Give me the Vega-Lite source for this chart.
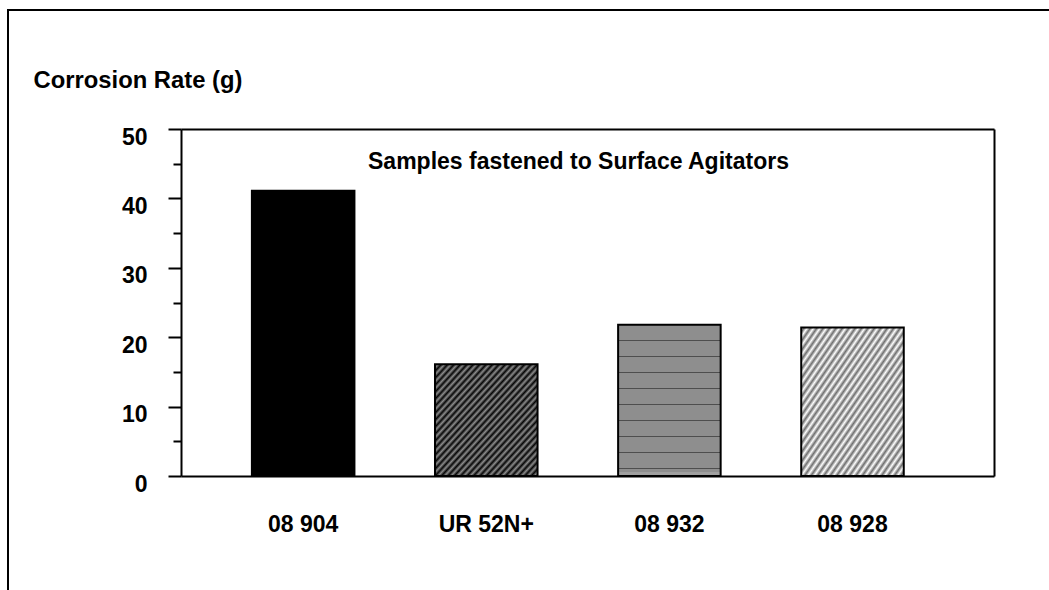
{
  "$schema": "https://vega.github.io/schema/vega-lite/v6.json",
  "autosize": {"type": "none"},
  "width": 1043,
  "height": 582,
  "padding": {"left": 8, "top": 10, "right": -2, "bottom": -2},
  "background": "white",
  "config": {
    "view": {"stroke": "black", "strokeWidth": 2},
    "font": "Liberation Sans",
    "axis": {"domainColor": "black", "domainWidth": 2, "tickColor": "black", "tickWidth": 2, "labelFont": "Liberation Sans", "labelFontWeight": "bold", "labelFontSize": 23, "labelColor": "black", "titleFont": "Liberation Sans", "titleFontWeight": "bold", "titleFontSize": 23, "titleColor": "black", "grid": false}
  },
  "data": {"values": [
    {"sample": "08 904", "rate": 41.1},
    {"sample": "UR 52N+", "rate": 16.1},
    {"sample": "08 932", "rate": 21.8},
    {"sample": "08 928", "rate": 21.4}
  ]},
  "layer": [
    {
      "mark": {"type": "bar", "stroke": "black", "strokeWidth": 2},
      "encoding": {
        "x": {"field": "sample", "type": "nominal", "sort": null,
          "scale": {"range": [173, 986], "paddingInner": 0.44, "paddingOuter": 0.44, "align": 0.44},
          "axis": {"orient": "bottom", "offset": -116, "title": null, "ticks": false, "labelAngle": 0, "labelPadding": 37, "labelBaseline": "top"}},
        "y": {"field": "rate", "type": "quantitative",
          "scale": {"domain": [0, 50], "range": [466, 119], "nice": false, "zero": true},
          "axis": {"orient": "left", "offset": -173, "values": [0,5,10,15,20,25,30,35,40,45,50],
            "tickSize": {"condition": {"test": "datum.value % 10 === 0", "value": 13}, "value": 8},
            "labelExpr": "datum.value % 10 === 0 ? datum.label : ''",
            "labelPadding": 21, "labelOffset": 8, "labelBaseline": "middle",
            "title": "Corrosion Rate (g)", "titleFontSize": 23.8, "titleAngle": 0, "titleAlign": "left", "titleBaseline": "alphabetic", "titleX": -148, "titleY": 77}},
        "fill": {
          "condition": [
            {"test": "datum.sample === 'UR 52N+'", "value": {"gradient": "linear", "x1": 0, "y1": 0, "x2": 1, "y2": 1, "stops": [
              {"offset": 0, "color": "#050505"}, {"offset": 0.015625, "color": "#8c8c8c"}, {"offset": 0.03125, "color": "#050505"}, {"offset": 0.046875, "color": "#8c8c8c"},
              {"offset": 0.0625, "color": "#050505"}, {"offset": 0.078125, "color": "#8c8c8c"}, {"offset": 0.09375, "color": "#050505"}, {"offset": 0.109375, "color": "#8c8c8c"},
              {"offset": 0.125, "color": "#050505"}, {"offset": 0.140625, "color": "#8c8c8c"}, {"offset": 0.15625, "color": "#050505"}, {"offset": 0.171875, "color": "#8c8c8c"},
              {"offset": 0.1875, "color": "#050505"}, {"offset": 0.203125, "color": "#8c8c8c"}, {"offset": 0.21875, "color": "#050505"}, {"offset": 0.234375, "color": "#8c8c8c"},
              {"offset": 0.25, "color": "#050505"}, {"offset": 0.265625, "color": "#8c8c8c"}, {"offset": 0.28125, "color": "#050505"}, {"offset": 0.296875, "color": "#8c8c8c"},
              {"offset": 0.3125, "color": "#050505"}, {"offset": 0.328125, "color": "#8c8c8c"}, {"offset": 0.34375, "color": "#050505"}, {"offset": 0.359375, "color": "#8c8c8c"},
              {"offset": 0.375, "color": "#050505"}, {"offset": 0.390625, "color": "#8c8c8c"}, {"offset": 0.40625, "color": "#050505"}, {"offset": 0.421875, "color": "#8c8c8c"},
              {"offset": 0.4375, "color": "#050505"}, {"offset": 0.453125, "color": "#8c8c8c"}, {"offset": 0.46875, "color": "#050505"}, {"offset": 0.484375, "color": "#8c8c8c"},
              {"offset": 0.5, "color": "#050505"}, {"offset": 0.515625, "color": "#8c8c8c"}, {"offset": 0.53125, "color": "#050505"}, {"offset": 0.546875, "color": "#8c8c8c"},
              {"offset": 0.5625, "color": "#050505"}, {"offset": 0.578125, "color": "#8c8c8c"}, {"offset": 0.59375, "color": "#050505"}, {"offset": 0.609375, "color": "#8c8c8c"},
              {"offset": 0.625, "color": "#050505"}, {"offset": 0.640625, "color": "#8c8c8c"}, {"offset": 0.65625, "color": "#050505"}, {"offset": 0.671875, "color": "#8c8c8c"},
              {"offset": 0.6875, "color": "#050505"}, {"offset": 0.703125, "color": "#8c8c8c"}, {"offset": 0.71875, "color": "#050505"}, {"offset": 0.734375, "color": "#8c8c8c"},
              {"offset": 0.75, "color": "#050505"}, {"offset": 0.765625, "color": "#8c8c8c"}, {"offset": 0.78125, "color": "#050505"}, {"offset": 0.796875, "color": "#8c8c8c"},
              {"offset": 0.8125, "color": "#050505"}, {"offset": 0.828125, "color": "#8c8c8c"}, {"offset": 0.84375, "color": "#050505"}, {"offset": 0.859375, "color": "#8c8c8c"},
              {"offset": 0.875, "color": "#050505"}, {"offset": 0.890625, "color": "#8c8c8c"}, {"offset": 0.90625, "color": "#050505"}, {"offset": 0.921875, "color": "#8c8c8c"},
              {"offset": 0.9375, "color": "#050505"}, {"offset": 0.953125, "color": "#8c8c8c"}, {"offset": 0.96875, "color": "#050505"}, {"offset": 0.984375, "color": "#8c8c8c"},
              {"offset": 1, "color": "#050505"}
            ]}},
            {"test": "datum.sample === '08 932'", "value": {"gradient": "linear", "x1": 0, "y1": 0, "x2": 0, "y2": 1, "stops": [
              {"offset": 0, "color": "#8e8e8e"},
              {"offset": 0.102, "color": "#8e8e8e"}, {"offset": 0.102, "color": "#4e4e4e"}, {"offset": 0.109, "color": "#4e4e4e"}, {"offset": 0.109, "color": "#8e8e8e"},
              {"offset": 0.208, "color": "#8e8e8e"}, {"offset": 0.208, "color": "#4e4e4e"}, {"offset": 0.215, "color": "#4e4e4e"}, {"offset": 0.215, "color": "#8e8e8e"},
              {"offset": 0.314, "color": "#8e8e8e"}, {"offset": 0.314, "color": "#4e4e4e"}, {"offset": 0.321, "color": "#4e4e4e"}, {"offset": 0.321, "color": "#8e8e8e"},
              {"offset": 0.42, "color": "#8e8e8e"}, {"offset": 0.42, "color": "#4e4e4e"}, {"offset": 0.427, "color": "#4e4e4e"}, {"offset": 0.427, "color": "#8e8e8e"},
              {"offset": 0.526, "color": "#8e8e8e"}, {"offset": 0.526, "color": "#4e4e4e"}, {"offset": 0.533, "color": "#4e4e4e"}, {"offset": 0.533, "color": "#8e8e8e"},
              {"offset": 0.632, "color": "#8e8e8e"}, {"offset": 0.632, "color": "#4e4e4e"}, {"offset": 0.639, "color": "#4e4e4e"}, {"offset": 0.639, "color": "#8e8e8e"},
              {"offset": 0.738, "color": "#8e8e8e"}, {"offset": 0.738, "color": "#4e4e4e"}, {"offset": 0.745, "color": "#4e4e4e"}, {"offset": 0.745, "color": "#8e8e8e"},
              {"offset": 0.844, "color": "#8e8e8e"}, {"offset": 0.844, "color": "#4e4e4e"}, {"offset": 0.851, "color": "#4e4e4e"}, {"offset": 0.851, "color": "#8e8e8e"},
              {"offset": 0.95, "color": "#8e8e8e"}, {"offset": 0.95, "color": "#4e4e4e"}, {"offset": 0.957, "color": "#4e4e4e"}, {"offset": 0.957, "color": "#8e8e8e"},
              {"offset": 0.975, "color": "#8e8e8e"}, {"offset": 0.975, "color": "#a0a0a0"}, {"offset": 1, "color": "#a0a0a0"}
            ]}},
            {"test": "datum.sample === '08 928'", "value": {"gradient": "linear", "x1": 0, "y1": 0, "x2": 1, "y2": 1, "stops": [
              {"offset": 0, "color": "#ffffff"}, {"offset": 0.015625, "color": "#6e6e6e"}, {"offset": 0.03125, "color": "#ffffff"}, {"offset": 0.046875, "color": "#6e6e6e"},
              {"offset": 0.0625, "color": "#ffffff"}, {"offset": 0.078125, "color": "#6e6e6e"}, {"offset": 0.09375, "color": "#ffffff"}, {"offset": 0.109375, "color": "#6e6e6e"},
              {"offset": 0.125, "color": "#ffffff"}, {"offset": 0.140625, "color": "#6e6e6e"}, {"offset": 0.15625, "color": "#ffffff"}, {"offset": 0.171875, "color": "#6e6e6e"},
              {"offset": 0.1875, "color": "#ffffff"}, {"offset": 0.203125, "color": "#6e6e6e"}, {"offset": 0.21875, "color": "#ffffff"}, {"offset": 0.234375, "color": "#6e6e6e"},
              {"offset": 0.25, "color": "#ffffff"}, {"offset": 0.265625, "color": "#6e6e6e"}, {"offset": 0.28125, "color": "#ffffff"}, {"offset": 0.296875, "color": "#6e6e6e"},
              {"offset": 0.3125, "color": "#ffffff"}, {"offset": 0.328125, "color": "#6e6e6e"}, {"offset": 0.34375, "color": "#ffffff"}, {"offset": 0.359375, "color": "#6e6e6e"},
              {"offset": 0.375, "color": "#ffffff"}, {"offset": 0.390625, "color": "#6e6e6e"}, {"offset": 0.40625, "color": "#ffffff"}, {"offset": 0.421875, "color": "#6e6e6e"},
              {"offset": 0.4375, "color": "#ffffff"}, {"offset": 0.453125, "color": "#6e6e6e"}, {"offset": 0.46875, "color": "#ffffff"}, {"offset": 0.484375, "color": "#6e6e6e"},
              {"offset": 0.5, "color": "#ffffff"}, {"offset": 0.515625, "color": "#6e6e6e"}, {"offset": 0.53125, "color": "#ffffff"}, {"offset": 0.546875, "color": "#6e6e6e"},
              {"offset": 0.5625, "color": "#ffffff"}, {"offset": 0.578125, "color": "#6e6e6e"}, {"offset": 0.59375, "color": "#ffffff"}, {"offset": 0.609375, "color": "#6e6e6e"},
              {"offset": 0.625, "color": "#ffffff"}, {"offset": 0.640625, "color": "#6e6e6e"}, {"offset": 0.65625, "color": "#ffffff"}, {"offset": 0.671875, "color": "#6e6e6e"},
              {"offset": 0.6875, "color": "#ffffff"}, {"offset": 0.703125, "color": "#6e6e6e"}, {"offset": 0.71875, "color": "#ffffff"}, {"offset": 0.734375, "color": "#6e6e6e"},
              {"offset": 0.75, "color": "#ffffff"}, {"offset": 0.765625, "color": "#6e6e6e"}, {"offset": 0.78125, "color": "#ffffff"}, {"offset": 0.796875, "color": "#6e6e6e"},
              {"offset": 0.8125, "color": "#ffffff"}, {"offset": 0.828125, "color": "#6e6e6e"}, {"offset": 0.84375, "color": "#ffffff"}, {"offset": 0.859375, "color": "#6e6e6e"},
              {"offset": 0.875, "color": "#ffffff"}, {"offset": 0.890625, "color": "#6e6e6e"}, {"offset": 0.90625, "color": "#ffffff"}, {"offset": 0.921875, "color": "#6e6e6e"},
              {"offset": 0.9375, "color": "#ffffff"}, {"offset": 0.953125, "color": "#6e6e6e"}, {"offset": 0.96875, "color": "#ffffff"}, {"offset": 0.984375, "color": "#6e6e6e"},
              {"offset": 1, "color": "#ffffff"}
            ]}}
          ],
          "value": "#000000"
        }
      }
    },
    {
      "mark": {"type": "bar", "opacity": 0},
      "encoding": {
        "x": {"field": "sample", "type": "nominal", "sort": null,
          "axis": {"orient": "top", "offset": -119, "ticks": false, "labels": false,
            "title": "Samples fastened to Surface Agitators", "titleAlign": "center", "titleBaseline": "alphabetic", "titleX": 570, "titleY": 39}},
        "y": {"field": "rate", "type": "quantitative",
          "axis": {"orient": "right", "offset": -57, "ticks": false, "labels": false, "title": null}}
      }
    }
  ],
  "resolve": {"axis": {"x": "independent", "y": "independent"}}
}
